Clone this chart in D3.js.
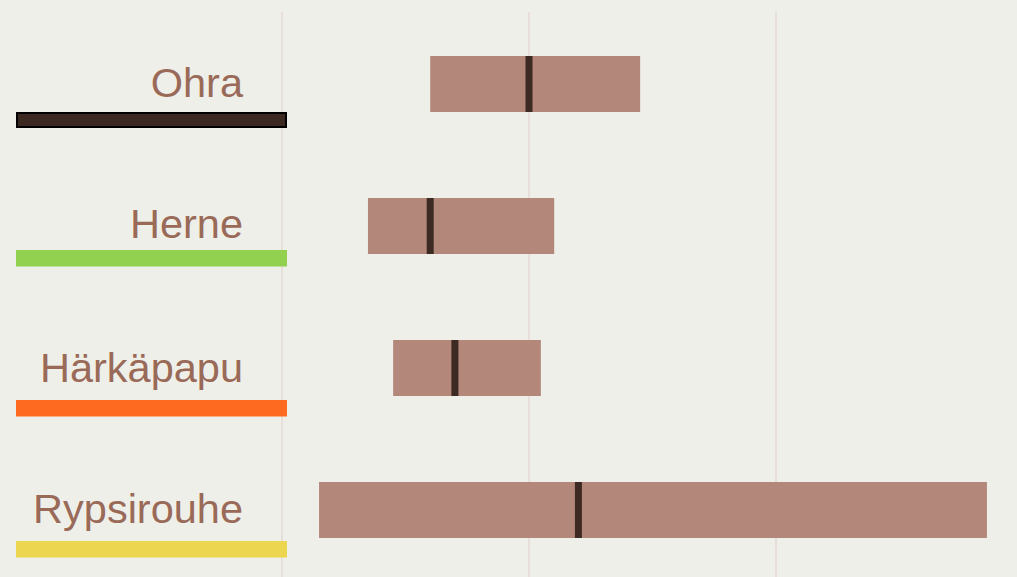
<!DOCTYPE html>
<html>
<head>
<meta charset="utf-8">
<script src="https://cdn.jsdelivr.net/npm/d3@7"></script>
<style>
  html, body { margin: 0; padding: 0; background: #efefe9; }
  svg { display: block; }
  .label { font-family: "Liberation Sans", Arial, sans-serif; font-size: 41.5px; fill: #9a6a58; }
</style>
</head>
<body>
<div id="chart"></div>
<script>
var crops = ["Ohra", "Herne", "Härkäpapu", "Rypsirouhe"];
var lowValues = [30, 17.4, 22.5, 7.5];
var highValues = [72.5, 55.1, 52.4, 142.7];
var medianValues = [50, 30, 35, 60];
var gridValues = [0, 50, 100];
var swatchColors = ["#3b2820", "#92d050", "#ff6a21", "#ecd54f"];

var width = 1017,
    height = 577;

// swatch offset below each row centre (layout only)
var swatchOffsets = [28, 24, 32, 31];
var labelOffsets = [13, 12, 13.5, 13];

var svg = d3.select("#chart")
    .append("svg")
    .attr("width", width)
    .attr("height", height);

svg.append("rect")
    .attr("width", width)
    .attr("height", height)
    .attr("fill", "#efefe9");

// x scale: value -> pixel
var x = d3.scaleLinear()
    .domain([0, 100])
    .range([282, 776]);

// row centres
var y = d3.scalePoint()
    .domain(crops)
    .range([84, 510]);

var barHeight = 56;

// vertical gridlines
svg.append("g")
    .selectAll("line")
    .data(gridValues)
    .enter()
    .append("line")
    .attr("x1", function(d) { return x(d); })
    .attr("x2", function(d) { return x(d); })
    .attr("y1", 12)
    .attr("y2", height)
    .attr("stroke", "#e6d9d5")
    .attr("stroke-width", 1.5);

var data = crops.map(function(c, i) {
    return {name: c, low: lowValues[i], high: highValues[i], median: medianValues[i], color: swatchColors[i]};
});

var rows = svg.append("g")
    .selectAll("g")
    .data(data)
    .enter()
    .append("g");

// range boxes
rows.append("rect")
    .attr("x", function(d) { return x(d.low); })
    .attr("y", function(d) { return y(d.name) - barHeight / 2; })
    .attr("width", function(d) { return x(d.high) - x(d.low); })
    .attr("height", barHeight)
    .attr("fill", "#b3877a");

// median marks
rows.append("rect")
    .attr("x", function(d) { return x(d.median) - 3.5; })
    .attr("y", function(d) { return y(d.name) - barHeight / 2; })
    .attr("width", 7)
    .attr("height", barHeight)
    .attr("fill", "#3d2a22");

// labels
rows.append("text")
    .attr("class", "label")
    .attr("x", 243)
    .attr("y", function(d, i) { return y(d.name) + labelOffsets[i]; })
    .attr("text-anchor", "end")
    .text(function(d) { return d.name; });

// coloured swatches under labels
rows.append("rect")
    .attr("x", function(d, i) { return i === 0 ? 17 : 16; })
    .attr("y", function(d, i) { return y(d.name) + swatchOffsets[i] + (i === 0 ? 1 : 0); })
    .attr("width", function(d, i) { return i === 0 ? 269 : 271; })
    .attr("height", function(d, i) { return i === 0 ? 14 : 16.5; })
    .attr("fill", function(d) { return d.color; })
    .attr("stroke", function(d, i) { return i === 0 ? "#000" : "none"; })
    .attr("stroke-width", 2);
</script>
</body>
</html>
